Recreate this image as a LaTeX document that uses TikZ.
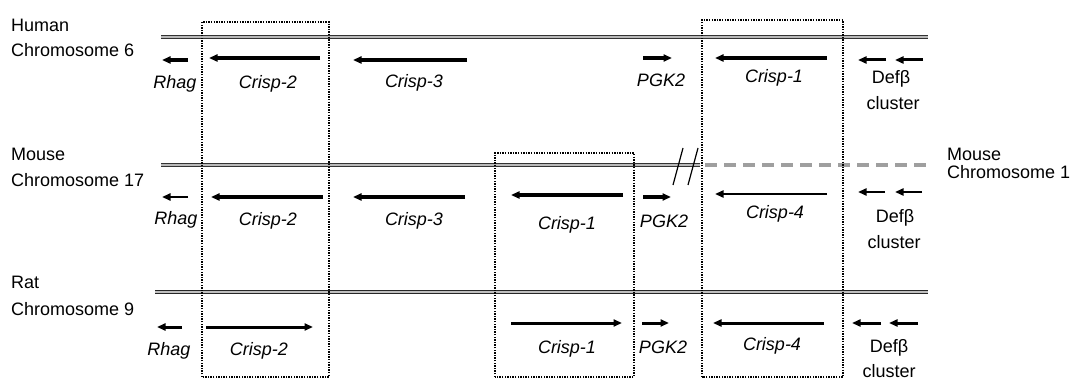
\documentclass[tikz,border=0pt]{standalone}
\usepackage{fontspec}
\setmainfont{Liberation Sans}
\usetikzlibrary{arrows.meta}
\begin{document}
\begin{tikzpicture}[x=1pt,y=-1pt,
  lbl/.style={font=\fontsize{18}{20}\selectfont, inner sep=0pt, anchor=base},
  sp/.style={lbl, anchor=base west},
  gene/.style={lbl, font=\fontsize{18}{20}\selectfont\itshape},
  chrom/.style={draw=black!80, double=gray!55, double distance=1.5pt, line width=1pt},
  ratchrom/.style={draw=black!85, double=gray!50, double distance=1.7pt, line width=1.4pt},
  splitchrom/.style={draw=gray!75, line width=3.4pt, dash pattern=on 12pt off 7pt},
  synteny/.style={draw=black, line width=1.5pt, dash pattern=on 1.4pt off 1.2pt},
  fwd/.style={line width=#1, -{Triangle[length=8.5pt,width=7pt]}},
  fwd/.default=3pt]
\useasboundingbox (0,0) rectangle (1070,379);

% species labels
\node[sp] (hs1) at (11,32) {Human};
\node[sp] (hs2) at (11,57) {Chromosome 6};
\node[sp] (ms1) at (11,161) {Mouse};
\node[sp] (ms2) at (11,187) {Chromosome 17};
\node[sp] (rs1) at (11,288) {Rat};
\node[sp] (rs2) at (11,315) {Chromosome 9};
\node[sp] (m1a) at (947,161) {Mouse};
\node[sp] (m1b) at (947,179) {Chromosome 1};

% chromosomes
\draw[chrom] (161,37) -- (928,37);
\draw[chrom] (161,165) -- (700,165);
\draw[splitchrom] (705,165) -- (928,165);
\draw[ratchrom] (155,292) -- (928,292);
% chromosome break
\draw[line width=1.2pt] (673,185) -- (683,148);
\draw[line width=1.2pt] (688,185) -- (698,148);

% conserved regions
\draw[synteny] (202,377) rectangle (329,22);
\draw[synteny] (495,377) rectangle (634,153);
\draw[synteny] (702,377) rectangle (843,20);

% human genes
\draw[fwd=3.4pt] (188,60) -- (162,60);
\draw[fwd=4pt] (320,58) -- (209,58);
\draw[fwd=3.4pt] (467,60) -- (353,60);
\draw[fwd=3.4pt] (643,58) -- (672,58);
\draw[fwd=4pt] (827,58) -- (715,58);
\draw[fwd=3pt] (886,60) -- (858,60);
\draw[fwd=3pt] (923,60) -- (895,60);
\node[gene] (hrhag) at (175,89) {Rhag};
\node[gene] (hc2) at (268,89) {Crisp-2};
\node[gene] (hc3) at (414,88) {Crisp-3};
\node[gene] (hpgk) at (661,87) {PGK2};
\node[gene] (hc1) at (774,83) {Crisp-1};
\node[lbl] (hdef) at (891,84) {Defβ};
\node[lbl] (hcl) at (893,110) {cluster};

% mouse genes
\draw[fwd=2.6pt] (188,197) -- (162,197);
\draw[fwd=4pt] (323,197) -- (211,197);
\draw[fwd=4pt] (465,197) -- (353,197);
\draw[fwd=4pt] (623,195) -- (511,195);
\draw[fwd=3.4pt] (643,197) -- (671,197);
\draw[fwd=2.6pt] (827,194) -- (715,194);
\draw[fwd=2.6pt] (885,192) -- (858,192);
\draw[fwd=2.6pt] (922,192) -- (895,192);
\node[gene] (mrhag) at (176,225) {Rhag};
\node[gene] (mc2) at (268,226) {Crisp-2};
\node[gene] (mc3) at (414,226) {Crisp-3};
\node[gene] (mc1) at (567,230) {Crisp-1};
\node[gene] (mpgk) at (664,228) {PGK2};
\node[gene] (mc4) at (775,219) {Crisp-4};
\node[lbl] (mdef) at (895,223) {Defβ};
\node[lbl] (mcl) at (894,248) {cluster};

% rat genes
\draw[fwd] (182,327) -- (157,327);
\draw[fwd] (206,327) -- (313,327);
\draw[fwd] (511,323) -- (622,323);
\draw[fwd] (642,323) -- (669,323);
\draw[fwd] (824,323) -- (713,323);
\draw[fwd] (881,323) -- (852,323);
\draw[fwd] (918,323) -- (889,323);
\node[gene] (rrhag) at (169,355) {Rhag};
\node[gene] (rc2) at (259,355) {Crisp-2};
\node[gene] (rc1) at (567,353) {Crisp-1};
\node[gene] (rpgk) at (663,353) {PGK2};
\node[gene] (rc4) at (772,350) {Crisp-4};
\node[lbl] (rdef) at (889,352) {Defβ};
\node[lbl] (rcl) at (889,377) {cluster};
\end{tikzpicture}
\end{document}
